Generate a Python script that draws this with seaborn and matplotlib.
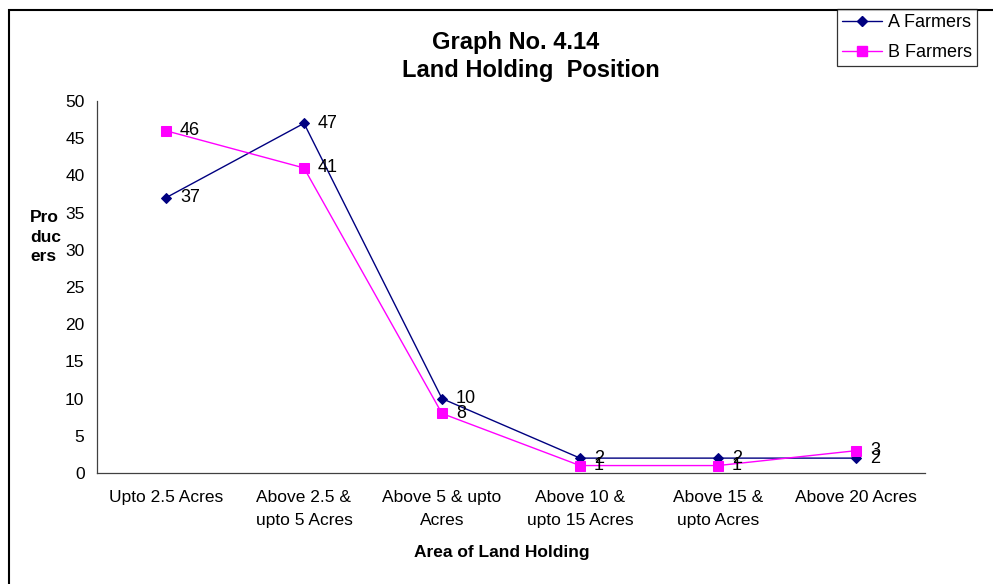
import matplotlib
matplotlib.use("Agg")
import matplotlib.pyplot as plt
import seaborn as sns
import pandas as pd
from matplotlib.patches import Rectangle
from matplotlib.lines import Line2D

categories = [
    "Upto 2.5 Acres",
    "Above 2.5 &\nupto 5 Acres",
    "Above 5 & upto\nAcres",
    "Above 10 &\nupto 15 Acres",
    "Above 15 &\nupto Acres",
    "Above 20 Acres",
]
a_farmers = [37, 47, 10, 2, 2, 2]
b_farmers = [46, 41, 8, 1, 1, 3]
series_names = ["A Farmers", "B Farmers"]
y_ticks = [0, 5, 10, 15, 20, 25, 30, 35, 40, 45, 50]

sns.set_style("white")
plt.rcParams["font.family"] = ["Liberation Sans", "DejaVu Sans"]
plt.rcParams["text.color"] = "black"
plt.rcParams["xtick.color"] = "black"
plt.rcParams["ytick.color"] = "black"
plt.rcParams["axes.labelcolor"] = "black"

df = pd.DataFrame({
    "pos": list(range(len(categories))) * 2,
    "value": a_farmers + b_farmers,
    "series": [series_names[0]] * len(categories) + [series_names[1]] * len(categories),
})

colors = {"A Farmers": "#000080", "B Farmers": "#FF00FF"}
markers = {"A Farmers": "D", "B Farmers": "s"}
msizes = {"A Farmers": 5.5, "B Farmers": 7}

fig = plt.figure(figsize=(9.93, 5.84), dpi=100)
ax = fig.add_axes([97 / 993, 111 / 584, 828 / 993, 372 / 584])

for name in series_names:
    sub = df[df["series"] == name]
    sns.lineplot(data=sub, x="pos", y="value", ax=ax, color=colors[name],
                 marker=markers[name], markersize=msizes[name],
                 markeredgecolor=colors[name], linewidth=1.0, legend=False)
    for x, y in zip(sub["pos"], sub["value"]):
        ax.annotate(str(y), (x, y), xytext=(10, 0), textcoords="offset points",
                    ha="left", va="center", fontsize=13, color="black")

ax.set_xlim(-0.5, len(categories) - 0.5)
ax.set_ylim(0, 50)
ax.set_yticks(y_ticks)
ax.set_xticks(range(len(categories)))
ax.set_xticklabels(categories, fontsize=12.5, linespacing=1.7)
ax.set_xticks([i - 0.5 for i in range(len(categories) + 1)], minor=True)
ax.tick_params(axis="x", which="major", length=0, pad=12, colors="black")
ax.tick_params(axis="x", which="minor", length=5, width=0.8, color="#404040", direction="out")
ax.tick_params(axis="y", length=5, width=0.8, color="#404040", labelcolor="black",
               direction="out", labelsize=12.5, pad=4)
for s in ["top", "right"]:
    ax.spines[s].set_visible(False)
for s in ["left", "bottom"]:
    ax.spines[s].set_color("#404040")
    ax.spines[s].set_linewidth(0.9)
ax.set_xlabel("")
ax.set_ylabel("")

fig.text(516 / 993, (584 - 42) / 584, "Graph No. 4.14", ha="center", va="center",
         fontsize=17, fontweight="bold")
fig.text(531 / 993, (584 - 70) / 584, "Land Holding  Position", ha="center", va="center",
         fontsize=17, fontweight="bold")
fig.text(502 / 993, (584 - 553) / 584, "Area of Land Holding", ha="center", va="center",
         fontsize=12.5, fontweight="bold")
fig.text(30 / 993, (584 - 237) / 584, "Pro\nduc\ners", ha="left", va="center",
         fontsize=12.5, fontweight="bold", linespacing=1.35)

# outer chart frame
fig.patches.append(Rectangle((9 / 993, -0.05), 1.2, (584 - 10) / 584 + 0.05,
                             transform=fig.transFigure, fill=False,
                             edgecolor="black", linewidth=1.5))

handles = [Line2D([], [], color=colors[n], marker=markers[n], markersize=msizes[n],
                  linewidth=1.0) for n in series_names]
leg = fig.legend(handles, series_names, loc="upper left",
                 bbox_to_anchor=(837 / 993, (584 - 9) / 584), fontsize=13,
                 frameon=True, fancybox=False, edgecolor="black", handlelength=2.2,
                 handletextpad=0.3, borderpad=0.3, labelspacing=0.7, borderaxespad=0)
leg.get_frame().set_linewidth(0.9)

fig.savefig("out.png", dpi=100)
